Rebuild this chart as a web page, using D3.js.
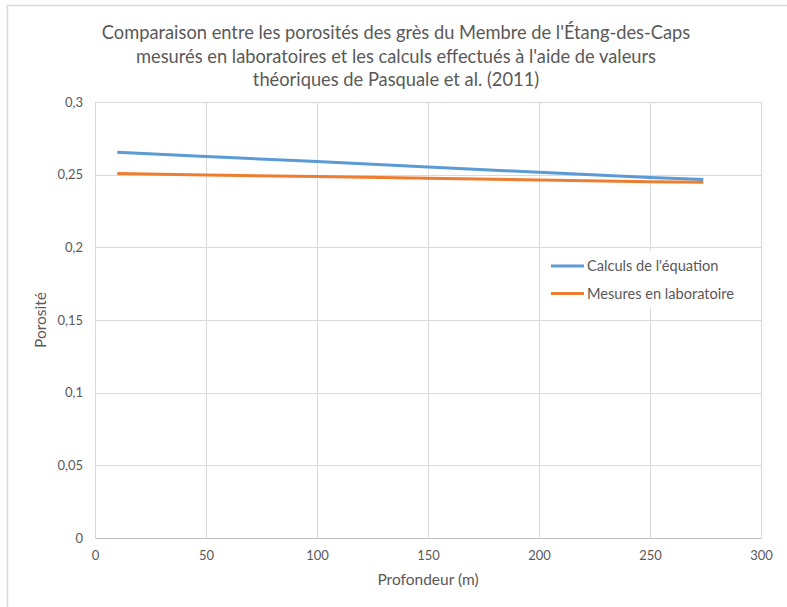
<!DOCTYPE html>
<html><head><meta charset="utf-8">
<script src="https://cdn.jsdelivr.net/npm/d3@7/dist/d3.min.js"></script>
<style>body{margin:0;background:#fff}svg{display:block}text{font-family:Lato,"Open Sans",sans-serif}</style>
</head><body>
<svg id="c" width="787" height="607"></svg>
<script>
const titleLines = ["Comparaison entre les porosités des grès du Membre de l'Étang-des-Caps",
  "mesurés en laboratoires et les calculs effectués à l'aide de valeurs",
  "théoriques de Pasquale et al. (2011)"];
const depths = [10, 50, 100, 150, 200, 250, 274];
const calcValues = [0.2654, 0.2625, 0.2590, 0.2553, 0.2516, 0.2481, 0.2466];
const labValues = [0.2508, 0.2498, 0.2487, 0.2475, 0.2464, 0.2452, 0.2447];
const seriesNames = ["Calculs de l'équation", "Mesures en laboratoire"];
const xTicks = [0, 50, 100, 150, 200, 250, 300];
const yTicks = [0, 0.05, 0.1, 0.15, 0.2, 0.25, 0.3];
const xLabel = "Profondeur (m)", yLabel = "Porosité";
const colors = ["#5B9BD5", "#ED7D31"];

const svg = d3.select("#c");
svg.append("rect").attr("x",7.5).attr("y",5.5).attr("width",900).attr("height",700)
  .attr("fill","#fff").attr("stroke","#d9d9d9").attr("stroke-width",1.5);

const x = d3.scaleLinear().domain([0,300]).range([95,761]);
const y = d3.scaleLinear().domain([0,0.3]).range([538,102]);
const fmt = d => d3.format(".2~f")(d).replace(".", ",");

// gridlines
svg.append("g").selectAll("line").data(yTicks).join("line")
  .attr("x1",x(0)).attr("x2",x(300)).attr("y1",d=>Math.round(y(d))+0.5).attr("y2",d=>Math.round(y(d))+0.5)
  .attr("stroke","#d9d9d9");
svg.append("g").selectAll("line").data(xTicks).join("line")
  .attr("y1",y(0)).attr("y2",y(0.3)).attr("x1",d=>Math.round(x(d))+0.5).attr("x2",d=>Math.round(x(d))+0.5)
  .attr("stroke","#d9d9d9");

// axes labels
const xa = svg.append("g").attr("transform",`translate(0,${y(0)})`)
  .call(d3.axisBottom(x).tickValues(xTicks).tickSize(0).tickPadding(13).tickFormat(d=>d));
xa.select(".domain").attr("stroke","#bfbfbf");
xa.selectAll("text").attr("fill","#595959").style("font-size","13px").style("font-family","Lato,sans-serif");
const ya = svg.append("g").attr("transform",`translate(${x(0)},0)`)
  .call(d3.axisLeft(y).tickValues(yTicks).tickSize(0).tickPadding(12).tickFormat(fmt));
ya.select(".domain").attr("stroke","#d9d9d9");
ya.selectAll("text").attr("fill","#595959").style("font-size","13px").style("font-family","Lato,sans-serif");

// lines
const line = d3.line().x((d,i)=>x(depths[i])).y(d=>y(d));
[calcValues, labValues].forEach((vals,k)=>{
  svg.append("path").datum(vals).attr("d",line).attr("fill","none")
    .attr("stroke",colors[k]).attr("stroke-width",3).attr("stroke-linecap","butt");
});

// legend
svg.append("rect").attr("x",545).attr("y",251).attr("width",215).attr("height",56).attr("fill","#fff");
seriesNames.forEach((n,k)=>{
  const ly = 266 + k*27.5;
  svg.append("line").attr("x1",551).attr("x2",584).attr("y1",ly).attr("y2",ly)
    .attr("stroke",colors[k]).attr("stroke-width",3);
  svg.append("text").attr("x",587).attr("y",ly).attr("dy","0.35em").text(n)
    .attr("fill","#595959").style("font-size","14.6px");
});

// titles
titleLines.forEach((t,i)=>{
  svg.append("text").attr("x",396).attr("y",33+i*23.5).attr("dy","0.35em").attr("text-anchor","middle")
    .attr("fill","#595959").style("font-size","18.3px").text(t);
});
svg.append("text").attr("x",428).attr("y",580).attr("dy","0.35em").attr("text-anchor","middle")
  .attr("fill","#595959").style("font-size","15.5px").text(xLabel);
svg.append("text").attr("transform","translate(41,320) rotate(-90)").attr("dy","0.35em").attr("text-anchor","middle")
  .attr("fill","#595959").style("font-size","15.5px").text(yLabel);
</script>
</body></html>
